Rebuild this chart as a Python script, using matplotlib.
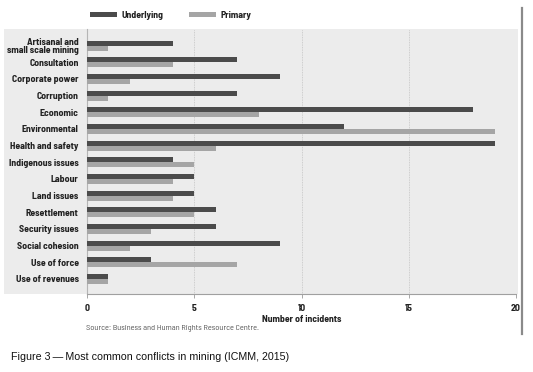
import matplotlib
matplotlib.use("Agg")
import matplotlib.pyplot as plt
from matplotlib.patches import Rectangle
from matplotlib.lines import Line2D
import numpy as np

categories = ["Artisanal and\nsmall scale mining", "Consultation", "Corporate power",
              "Corruption", "Economic", "Environmental", "Health and safety",
              "Indigenous issues", "Labour", "Land issues", "Resettlement",
              "Security issues", "Social cohesion", "Use of force", "Use of revenues"]
underlying = [4, 7, 9, 7, 18, 12, 19, 4, 5, 5, 6, 6, 9, 3, 1]
primary = [1, 4, 2, 1, 8, 19, 6, 5, 4, 4, 5, 3, 2, 7, 1]
xticks = [0, 5, 10, 15, 20]

plt.rcParams['font.family'] = ['Barlow Semi Condensed', 'Roboto Condensed', 'DejaVu Sans']

W, H = 533, 372
fig = plt.figure(figsize=(W / 100, H / 100), dpi=100)

def fx(px):
    return px / W

def fy(py):
    return 1 - py / H

# light gray panel behind labels and bars
fig.patches.append(Rectangle((fx(4), fy(294)), fx(518) - fx(4), fy(29) - fy(294),
                             transform=fig.transFigure, facecolor="#ececec",
                             edgecolor="none", zorder=-5))
# thick vertical line on the right
fig.add_artist(Line2D([fx(522), fx(522)], [fy(8), fy(334)], transform=fig.transFigure,
                      color="#8a8a8a", lw=1.6))

ax = fig.add_axes([fx(87), fy(294), fx(516) - fx(87), fy(29) - fy(294)])
ax.set_facecolor("none")
ax.set_zorder(2)

y = np.arange(len(categories))
h = 0.3
ax.barh(y - h / 2, underlying, height=h, color="#4b4b4b", label="Underlying", zorder=3)
ax.barh(y + h / 2, primary, height=h, color="#a5a5a5", label="Primary", zorder=3)

fs = 7
ax.set_xlim(0, 20)
ax.set_ylim(14.9, -0.99)
ax.set_yticks(y)
ax.set_yticklabels(categories, fontsize=fs, fontweight="bold", color="#222222",
                   linespacing=0.9)
ax.tick_params(axis="y", length=0, pad=6)
ax.set_xticks(xticks)
ax.set_xticklabels([str(t) for t in xticks], fontsize=fs, fontweight="bold", color="#222222")
ax.tick_params(axis="x", length=3, width=0.6, color="#999999", pad=4)
for t in xticks[1:]:
    ax.axvline(t, color="#c4c4c4", lw=0.6, ls=(0, (1, 1)), zorder=1)

for s in ["top", "right"]:
    ax.spines[s].set_visible(False)
ax.spines["left"].set_color("#b5b5b5")
ax.spines["left"].set_linewidth(0.8)
ax.spines["bottom"].set_color("#a0a0a0")
ax.spines["bottom"].set_linewidth(0.8)

ax.set_xlabel("Number of incidents", fontsize=fs, fontweight="bold", color="#222222",
              labelpad=2)

leg = fig.legend(loc="upper left", bbox_to_anchor=(fx(81), fy(2)), ncol=2, frameon=False,
                 fontsize=fs, handlelength=2.8, handleheight=0.5, columnspacing=2.6,
                 handletextpad=0.45)
for txt in leg.get_texts():
    txt.set_fontweight("bold")
    txt.set_color("#222222")

fig.text(fx(86), fy(329), "Source: Business and Human Rights Resource Centre.",
         fontsize=6, color="#555555", va="center")
fig.text(fx(11), fy(357), "Figure 3\u2009\u2014\u2009Most common conflicts in mining (ICMM, 2015)",
         fontsize=7.7, color="#111111", va="center", family=["Liberation Sans", "DejaVu Sans"])

fig.savefig("out.png", dpi=100)
